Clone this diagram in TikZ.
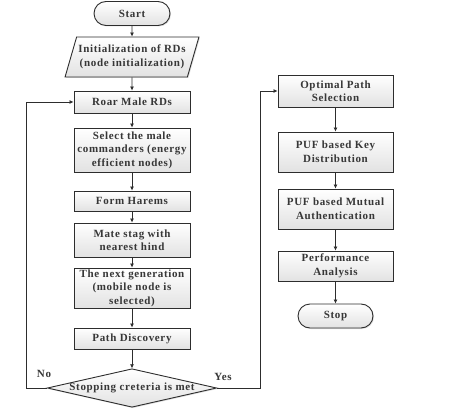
\documentclass[tikz,border=0pt]{standalone}
\usepackage{fontspec}
\setmainfont{Liberation Serif}[LetterSpace=6]
\usepackage{tikz}
\usetikzlibrary{arrows.meta, positioning, shapes.geometric, shapes.misc, shadows}
\definecolor{boxbottom}{RGB}{226,226,226}
\definecolor{boxline}{RGB}{45,45,45}
\definecolor{boxtext}{RGB}{55,55,55}

\begin{document}
\begin{tikzpicture}[
        x=1pt, y=-1pt,
        font=\fontsize{11}{13.5}\selectfont\bfseries,
        caixa/.style={draw=boxline, line width=0.9pt, top color=white, bottom color=boxbottom, text=boxtext,
            align=center, inner sep=1pt, minimum width=116pt,
            drop shadow={shadow xshift=1pt, shadow yshift=-1pt, fill=black!25}},
        passo/.style={caixa, rectangle},
        terminal/.style={caixa, rounded rectangle, minimum width=78pt, minimum height=24pt},
        entrada/.style={caixa, trapezium, trapezium left angle=66, trapezium right angle=114,
            trapezium stretches=true, minimum width=134pt, minimum height=40pt},
        decisao/.style={caixa, diamond, aspect=4.4, minimum width=169pt, minimum height=38pt, inner sep=0pt},
        fluxo/.style={-{Latex[length=4pt,width=4pt]}, line width=0.7pt, draw=boxline},
        rotulo/.style={text=boxtext}
    ]
        \useasboundingbox (0,0) rectangle (462,411);

        % coluna da esquerda
        \node[terminal] (start) at (132,13.5) {Start};
        \node[entrada] (init) at (132,57) {Initialization of RDs\\(node initialization)};
        \node[passo, minimum height=22pt] (roar) at (132,102) {Roar Male RDs};
        \node[passo, minimum height=44pt] (select) at (132,150) {Select the male\\commanders (energy\\efficient nodes)};
        \node[passo, minimum height=20pt] (harem) at (132,201) {Form Harems};
        \node[passo, minimum height=34pt] (mate) at (132,240) {Mate stag with\\nearest hind};
        \node[passo, minimum height=40pt] (nextgen) at (132,288) {The next generation\\(mobile node is\\selected)};
        \node[passo, minimum height=21pt] (path) at (132,338.5) {Path Discovery};
        \node[decisao] (criterio) at (132,388) {Stopping creteria is met};

        % coluna da direita
        \node[passo, minimum width=115pt, minimum height=32pt] (optimal) at (335.5,91) {Optimal Path\\Selection};
        \node[passo, minimum width=115pt, minimum height=40pt] (keydist) at (335.5,152) {PUF based Key\\Distribution};
        \node[passo, minimum width=115pt, minimum height=40pt] (mutual) at (335.5,209) {PUF based Mutual\\Authentication};
        \node[passo, minimum width=115pt, minimum height=30pt] (perf) at (335.5,266) {Performance\\Analysis};
        \node[terminal, minimum width=77pt] (stop) at (335.5,316) {Stop};

        \foreach \a/\b in {start/init, init/roar, roar/select, select/harem, harem/mate,
                mate/nextgen, nextgen/path, path/criterio,
                optimal/keydist, keydist/mutual, mutual/perf, perf/stop}
            \draw[fluxo] (\a) -- (\b);

        \draw[fluxo] (criterio.west) -- ++(-21,0) |- (roar.west);
        \draw[fluxo] (criterio.east) -- ++(43,0) |- (optimal.west);

        \node[rotulo] (nao) at (44,374) {No};
        \node[rotulo] (sim) at (223,377) {Yes};
    \end{tikzpicture}
\end{document}
